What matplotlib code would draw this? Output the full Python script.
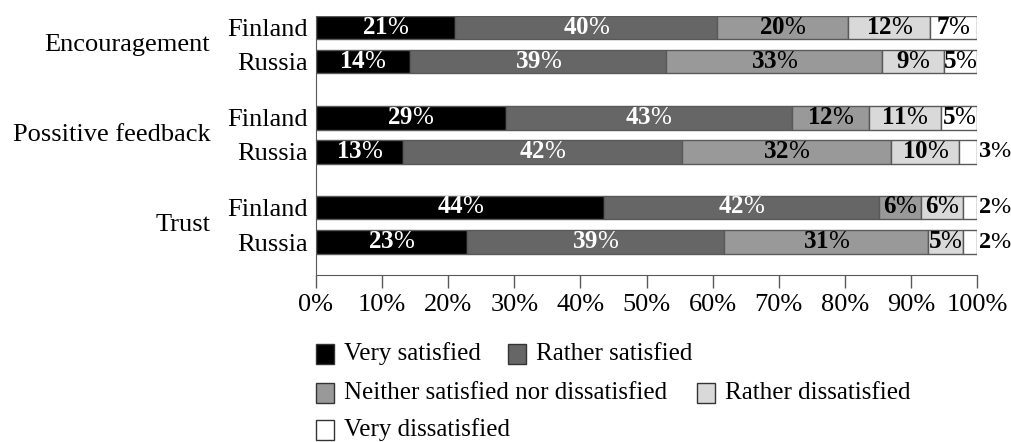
import numpy as np
import matplotlib.pyplot as plt
from matplotlib.patches import Rectangle

plt.rcParams["font.family"] = "Liberation Serif"
plt.rcParams["mathtext.fontset"] = "custom"
plt.rcParams["mathtext.rm"] = "Liberation Serif"
plt.rcParams["mathtext.bf"] = "Liberation Serif:bold"

# Données (en %)
groups = ["Encouragement", "Possitive feedback", "Trust"]
countries = ["Finland", "Russia", "Finland", "Russia", "Finland", "Russia"]
levels = ["Very satisfied", "Rather satisfied",
          "Neither satisfied nor dissatisfied", "Rather dissatisfied",
          "Very dissatisfied"]
very_sat = [21.0, 14.2, 28.7, 13.2, 43.6, 22.9]
rather_sat = [39.7, 38.8, 43.3, 42.2, 41.6, 38.9]
neither = [19.8, 32.6, 11.6, 31.6, 6.3, 30.8]
rather_dis = [12.4, 9.4, 11.0, 10.3, 6.4, 5.3]
very_dis = [7.1, 5.0, 5.4, 2.7, 2.1, 2.1]

colors = ["#000000", "#666666", "#999999", "#d9d9d9", "#ffffff"]
txt_colors = ["white", "white", "black", "black", "black"]

series = [very_sat, rather_sat, neither, rather_dis, very_dis]

# positions verticales des barres
ypos = np.array([0, 1, 2.66, 3.66, 5.29, 6.31])
h = 0.68

fig = plt.figure(figsize=(10.12, 4.42), dpi=100)
ax = fig.add_axes([316 / 1012, 1 - 275 / 442, 661 / 1012, 259 / 442])

left = np.zeros(len(ypos))
for k, vals in enumerate(series):
    vals = np.array(vals)
    ax.barh(ypos, vals, left=left, height=h, color=colors[k],
            edgecolor="#595959", linewidth=1)
    for i, v in enumerate(vals):
        lab = r"$\mathbf{%d}$%%" % round(v)
        if v >= 4:
            ax.text(left[i] + v / 2, ypos[i], lab, ha="center", va="center",
                    color=txt_colors[k], fontsize=18)
        else:
            # trop petit : étiquette à droite de la barre
            ax.text(100.2, ypos[i], lab, ha="left", va="center",
                    color="black", fontsize=17.5)
    left += vals

ax.set_xlim(0, 100)
ax.set_ylim(7.28, -0.34)
ax.set_xticks(np.arange(0, 101, 10))
ax.set_xticklabels(["%d%%" % t for t in range(0, 101, 10)], fontsize=19)
ax.set_yticks(ypos)
ax.set_yticklabels(countries, fontsize=19)
ax.tick_params(axis="y", length=0, pad=6)
ax.tick_params(axis="x", length=9, width=1, color="#595959", pad=5)
for s in ["top", "right"]:
    ax.spines[s].set_visible(False)
for s in ["left", "bottom"]:
    ax.spines[s].set_color("#595959")

# étiquettes de groupe
for g, y0 in zip(groups, [0.5, 3.16, 5.8]):
    ax.text(-0.16, y0, g, transform=ax.get_yaxis_transform(),
            ha="right", va="center", fontsize=19)

# légende dessinée à la main
leg_pos = [(316, 354), (508, 354), (316, 393), (697, 393), (316, 430)]
for k, (x, y) in enumerate(leg_pos):
    fig.patches.append(Rectangle(((x) / 1012, 1 - (y + 10) / 442), 18 / 1012,
                                 20 / 442, transform=fig.transFigure,
                                 facecolor=colors[k], edgecolor="#333333",
                                 linewidth=1))
    fig.text((x + 28) / 1012, 1 - y / 442, levels[k], ha="left",
             va="center", fontsize=18)

fig.savefig("out.png", dpi=100)
